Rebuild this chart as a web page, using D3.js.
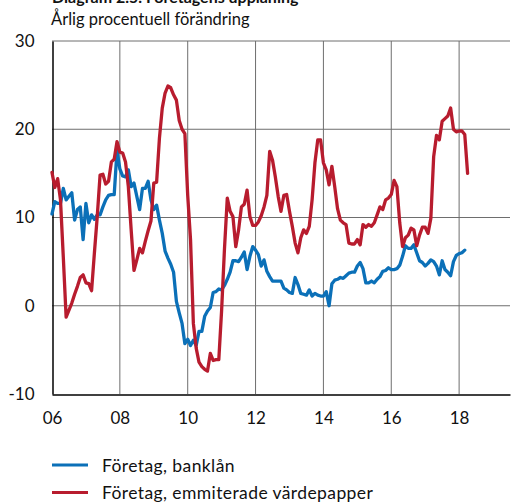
<!DOCTYPE html>
<html>
<head>
<meta charset="utf-8">
<script src="https://cdn.jsdelivr.net/npm/d3@7"></script>
<style>
  html, body { margin: 0; padding: 0; background: #fff; }
  svg { display: block; font-family: Lato, "Open Sans", sans-serif; }
</style>
</head>
<body>
<svg id="chart" width="516" height="502"></svg>
<script>
const title = "Diagram 2.5. Företagens upplåning";
const subtitle = "Årlig procentuell förändring";
const startYear = 2006;            // monthly data from Jan 2006
const yTicks = [-10, 0, 10, 20, 30];
const xTicks = [2006, 2008, 2010, 2012, 2014, 2016, 2018];
const xTickLabels = ["06", "08", "10", "12", "14", "16", "18"];
const seriesNames = ["Företag, banklån", "Företag, emmiterade värdepapper"];
const seriesColors = ["#0b70b8", "#b81c2e"];

const bankLoans = [
  10.4, 11.8, 11.6, 11.6, 13.3, 12.0, 12.4, 12.8, 9.7, 10.9, 11.2, 7.5,
  11.6, 9.4, 10.3, 9.8, 10.3, 10.3, 11.2, 12.0, 12.5, 12.6, 12.6, 17.6,
  15.5, 14.7, 14.6, 15.4, 13.5, 13.9, 12.4, 10.9, 13.3, 13.3, 14.1, 12.0,
  10.9, 11.4, 9.7, 8.2, 6.2, 5.4, 4.7, 3.8, 0.5, -0.8, -2.0, -4.3,
  -3.8, -4.5, -3.9, -4.5, -2.9, -2.9, -1.2, -0.6, -0.2, 1.5, 1.6, 1.9,
  1.8, 2.3, 3.0, 3.8, 5.1, 5.1, 5.0, 5.5, 6.1, 4.1, 5.6, 6.7,
  6.3, 5.8, 4.5, 5.2, 3.9, 3.3, 2.8, 2.8, 2.8, 2.8, 2.0, 1.8,
  1.5, 1.4, 3.2, 2.4, 1.4, 1.3, 1.2, 1.8, 1.1, 1.4, 1.2, 1.1,
  1.1, 1.6, 0.0, 2.5, 2.9, 3.0, 3.2, 3.1, 3.4, 3.7, 3.8, 3.8,
  4.5, 4.9, 4.2, 2.6, 2.6, 2.8, 2.6, 3.0, 3.3, 3.9, 4.0, 4.3,
  4.1, 4.1, 4.2, 4.6, 5.6, 6.8, 6.5, 6.5, 6.9, 6.0, 5.1, 4.9,
  4.5, 4.8, 5.2, 5.0, 4.5, 3.5, 5.1, 4.1, 3.8, 3.4, 5.0, 5.7,
  5.9, 6.0, 6.3
];
const securities = [
  15.1, 13.4, 14.4, 12.0, 5.5, -1.3, -0.5, 0.3, 1.3, 2.2, 3.2, 3.5,
  2.6, 2.5, 1.7, 6.0, 10.1, 14.8, 14.9, 13.8, 14.1, 16.3, 16.6, 18.6,
  17.4, 17.3, 16.3, 13.5, 8.6, 4.0, 5.2, 6.5, 6.0, 7.3, 8.5, 9.6,
  13.9, 14.0, 19.0, 22.4, 24.1, 24.9, 24.7, 23.9, 23.3, 21.0, 20.0, 19.5,
  12.5, 7.5, -2.0, -4.8, -6.4, -6.9, -7.2, -7.4, -5.4, -6.2, -6.1, -6.1,
  -0.5, 6.4, 12.2, 10.7, 10.1, 6.7, 8.6, 11.2, 11.5, 13.1, 10.1, 9.1,
  9.1, 9.5, 10.2, 11.2, 12.5, 17.5, 16.5, 14.6, 12.4, 10.7, 12.5, 12.6,
  10.7, 9.0, 7.1, 6.0, 7.7, 8.6, 8.2, 9.0, 12.0, 16.2, 18.8, 18.8,
  16.2, 15.4, 13.7, 15.8, 13.5, 11.0, 9.7, 9.4, 9.2, 7.1, 7.0, 7.0,
  7.5, 6.9, 9.2, 8.9, 9.2, 9.0, 9.4, 10.3, 11.2, 10.9, 12.0, 12.2,
  12.6, 14.2, 13.5, 9.4, 6.7, 7.7, 8.0, 8.8, 8.6, 6.8, 8.0, 8.9,
  8.9, 8.2, 9.9, 16.9, 19.3, 18.8, 20.9, 21.2, 21.5, 22.4, 20.0, 19.7,
  19.8, 19.8, 19.4, 15.0
];

const svg = d3.select("#chart");
const mLeft = 52, mRight = 510, mTop = 41, mBottom = 394;

const x = d3.scaleLinear().domain([2006, 2019.5]).range([mLeft, mRight]);
const y = d3.scaleLinear().domain([-10, 30]).range([mBottom, mTop]);

// Title (cut at the top edge, as in the reference) & subtitle
svg.append("text").attr("x", 52).attr("y", 3)
  .attr("font-size", 16).attr("font-weight", "bold").attr("fill", "#111")
  .text(title);
svg.append("text").attr("x", 51).attr("y", 25)
  .attr("font-size", 16.5).attr("fill", "#111")
  .text(subtitle);

// Horizontal gridlines
svg.append("g").selectAll("line").data(yTicks.filter(d => d > -10)).join("line")
  .attr("x1", mLeft).attr("x2", mRight)
  .attr("y1", d => y(d)).attr("y2", d => y(d))
  .attr("stroke", "#6e6e6e").attr("stroke-width", 1);

// Vertical gridlines
svg.append("g").selectAll("line").data(xTicks.filter(d => d > 2006)).join("line")
  .attr("x1", d => x(d)).attr("x2", d => x(d))
  .attr("y1", mTop).attr("y2", mBottom)
  .attr("stroke", "#6e6e6e").attr("stroke-width", 1);

// Axes
const yAxis = d3.axisLeft(y).tickValues(yTicks).tickSize(0).tickPadding(18)
  .tickFormat(d => String(d));
const gy = svg.append("g").attr("transform", `translate(${mLeft + 0.5},0)`).call(yAxis);
gy.select(".domain").attr("stroke", "#000").attr("stroke-width", 1.5);
gy.selectAll("text").attr("font-size", 17).attr("fill", "#111")
  .attr("font-family", "Lato, 'Open Sans', sans-serif");

const xAxis = d3.axisBottom(x).tickValues(xTicks).tickSize(0).tickPadding(17)
  .tickFormat((d, i) => xTickLabels[i]);
const gx = svg.append("g").attr("transform", `translate(0,${mBottom + 0.5})`).call(xAxis);
gx.select(".domain").attr("stroke", "#000").attr("stroke-width", 1.5);
gx.selectAll("text").attr("font-size", 17).attr("fill", "#111")
  .attr("font-family", "Lato, 'Open Sans', sans-serif");

// Lines
const line = d3.line().x((d, i) => x(startYear + i / 12)).y(d => y(d)).curve(d3.curveLinear);
[bankLoans, securities].forEach((s, k) => {
  svg.append("path").datum(s).attr("d", line)
    .attr("fill", "none").attr("stroke", seriesColors[k])
    .attr("stroke-width", 3.3).attr("stroke-linejoin", "round").attr("stroke-linecap", "round");
});

// Legend
const leg = svg.append("g");
seriesNames.forEach((n, k) => {
  const ly = 465 + k * 27.5;
  leg.append("line").attr("x1", 52).attr("x2", 88).attr("y1", ly).attr("y2", ly)
    .attr("stroke", seriesColors[k]).attr("stroke-width", 3);
  leg.append("text").attr("x", 102).attr("y", ly + 6.5).attr("font-size", 17.5)
    .attr("letter-spacing", 0.4).attr("fill", "#111")
    .text(n);
});
</script>
</body>
</html>
